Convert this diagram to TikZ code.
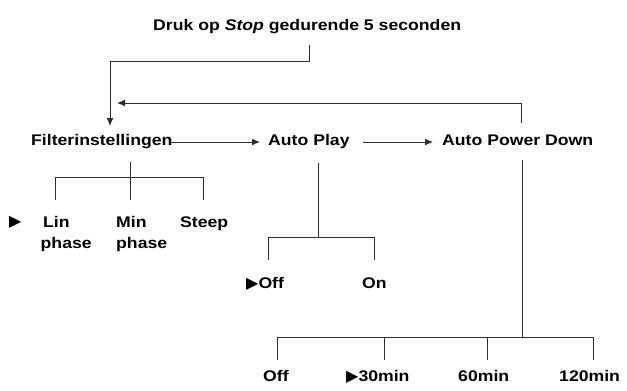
\documentclass[tikz,border=0pt]{standalone}
\usepackage{fontspec}
\usepackage{tikz}
\usetikzlibrary{arrows.meta}
\setmainfont{Liberation Sans}[FakeStretch=1.146]
\newfontfamily\markfont{DejaVu Sans}
\newcommand{\mk}{{\markfont\mdseries\fontsize{16}{16}\selectfont ▶}}
\definecolor{ln}{RGB}{45, 45, 45}

\tikzset{
  lbl/.style={inner sep=0pt, anchor=base west, text=black,
    font=\bfseries\fontsize{15.4}{18}\selectfont},
  tree/.style={line width=1pt, color=ln},
  arr/.style={tree, -{Latex[length=8pt, width=7pt]}}
}

\begin{document}
\begin{tikzpicture}
\useasboundingbox (0pt, 0pt) rectangle (627pt, -391pt);
% top line and menu level
\node (stop) [lbl] at (153.0pt, -30.0pt) {Druk op \textit{Stop} gedurende 5 seconden};
\node (filt) [lbl] at (31.0pt, -145.5pt) {Filterinstellingen};
\node (play) [lbl] at (268.0pt, -145.5pt) {Auto Play};
\node (apd) [lbl] at (442.0pt, -145.5pt) {Auto Power Down};
\coordinate (s0) at (309.0pt, -45.0pt);
\coordinate (s1) at (309.0pt, -61.0pt);
\coordinate (s2) at (110.0pt, -61.0pt);
\coordinate (s3) at (110.0pt, -126.0pt);
\coordinate (r0) at (521.0pt, -123.0pt);
\coordinate (r1) at (521.0pt, -103.0pt);
\coordinate (r2) at (117.0pt, -103.0pt);
\coordinate (a0) at (171.0pt, -142.0pt);
\coordinate (a1) at (260.0pt, -142.0pt);
\coordinate (b0) at (363.0pt, -142.0pt);
\coordinate (b1) at (433.0pt, -142.0pt);
\draw [tree] (s0) -- (s1) -- (s2);
\draw [arr] (s2) -- (s3);
\draw [tree] (r0) -- (r1);
\draw [arr] (r1) -- (r2);
\draw [arr] (a0) -- (a1);
\draw [arr] (b0) -- (b1);
% Filterinstellingen
\node (linmark) [lbl] at (9.0pt, -226.0pt) {\mk};
\node (lin) [lbl] at (43.0pt, -227.0pt) {Lin};
\node (linph) [lbl] at (40.5pt, -248.0pt) {phase};
\node (min) [lbl] at (116.0pt, -227.0pt) {Min};
\node (minph) [lbl] at (116.0pt, -248.0pt) {phase};
\node (steep) [lbl] at (180.0pt, -227.0pt) {Steep};
\coordinate (f0) at (130.0pt, -162.0pt);
\coordinate (f1) at (130.0pt, -177.0pt);
\coordinate (fl) at (55.0pt, -177.0pt);
\coordinate (fr) at (203.0pt, -177.0pt);
\draw [tree] (f0) -- (f1);
\draw [tree] (fl) -- (fr);
\draw [tree] (fl) -- ++(0pt, -23pt);
\draw [tree] (f1) -- ++(0pt, -23pt);
\draw [tree] (fr) -- ++(0pt, -23pt);
% Auto Play
\node (poff) [lbl] at (246.0pt, -288.0pt) {\mk Off};
\node (pon) [lbl] at (362.0pt, -288.0pt) {On};
\coordinate (p0) at (318.0pt, -163.0pt);
\coordinate (p1) at (318.0pt, -237.0pt);
\coordinate (pl) at (268.0pt, -237.0pt);
\coordinate (pr) at (374.0pt, -237.0pt);
\draw [tree] (p0) -- (p1);
\draw [tree] (pl) -- (pr);
\draw [tree] (pl) -- ++(0pt, -23pt);
\draw [tree] (pr) -- ++(0pt, -23pt);
% Auto Power Down
\node (doff) [lbl] at (263.0pt, -381.5pt) {Off};
\node (d30) [lbl] at (346.0pt, -381.5pt) {\mk 30min};
\node (d60) [lbl] at (458.0pt, -381.5pt) {60min};
\node (d120) [lbl] at (559.0pt, -381.5pt) {120min};
\coordinate (d0) at (522.0pt, -160.0pt);
\coordinate (d1) at (522.0pt, -337.0pt);
\coordinate (dl) at (277.0pt, -337.0pt);
\coordinate (dr) at (593.0pt, -337.0pt);
\draw [tree] (d0) -- (d1);
\draw [tree] (dl) -- (dr);
\draw [tree] (dl) -- ++(0pt, -23pt);
\draw [tree] (384.0pt, -337.0pt) -- ++(0pt, -23pt);
\draw [tree] (487.0pt, -337.0pt) -- ++(0pt, -23pt);
\draw [tree] (dr) -- ++(0pt, -23pt);
\end{tikzpicture}
\end{document}
